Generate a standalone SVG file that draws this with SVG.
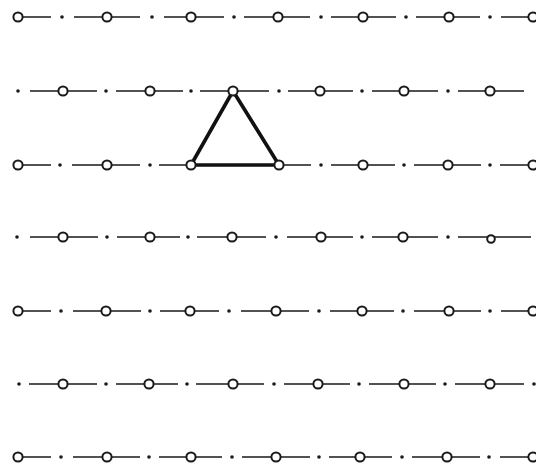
<svg xmlns="http://www.w3.org/2000/svg" width="536" height="471" viewBox="0 0 536 471">
<style>
.seg{stroke:#1a1a1a;stroke-width:1.6;fill:none}
.dot{fill:#1a1a1a}
.node{fill:#fff;stroke:#1a1a1a;stroke-width:2}
.tri{stroke:#111;stroke-width:3.6;fill:none;stroke-linejoin:round}
</style>
<rect width="536" height="471" fill="#fff"/>
<g id="connectors">
<path class="seg" d="M18 17H51 M74 17H140 M164 17H224 M244 17H310 M331 17H396 M416 17H480 M501 17H536"/>
<path class="seg" d="M30 91H97 M116 91H183 M200 91H269 M288 91H353 M372 91H438 M458 91H524"/>
<path class="seg" d="M18 165H51 M72 165H140 M159 165H191 M279 165H311 M331 165H395 M414 165H481 M500 165H536"/>
<path class="seg" d="M30 237H98 M117 237H180 M197 237H266 M287 237H353 M372 237H438 M458 237H531"/>
<path class="seg" d="M18 311H51 M73 311H141 M160 311H219 M241 311H309 M330 311H394 M414 311H481 M501 311H536"/>
<path class="seg" d="M29 384H97 M116 384H178 M196 384H264 M284 384H350 M369 384H436 M455 384H524"/>
<path class="seg" d="M18 457H51 M73 457H140 M159 457H222 M242 457H310 M329 457H392 M412 457H480 M500 457H536"/>
<g class="dot">
<circle cx="62" cy="17" r="1.8"/><circle cx="152" cy="17" r="1.8"/><circle cx="234" cy="17" r="1.8"/><circle cx="321" cy="17" r="1.8"/><circle cx="406" cy="17" r="1.8"/><circle cx="490" cy="17" r="1.8"/>
<circle cx="18" cy="91" r="1.8"/><circle cx="106" cy="91" r="1.8"/><circle cx="191" cy="91" r="1.8"/><circle cx="279" cy="91" r="1.8"/><circle cx="362" cy="91" r="1.8"/><circle cx="448" cy="91" r="1.8"/>
<circle cx="60" cy="165" r="1.8"/><circle cx="150" cy="165" r="1.8"/><circle cx="321" cy="165" r="1.8"/><circle cx="404" cy="165" r="1.8"/><circle cx="490" cy="165" r="1.8"/>
<circle cx="17" cy="237" r="1.8"/><circle cx="107" cy="237" r="1.8"/><circle cx="188" cy="237" r="1.8"/><circle cx="276" cy="237" r="1.8"/><circle cx="362" cy="237" r="1.8"/><circle cx="448" cy="237" r="1.8"/>
<circle cx="61" cy="311" r="1.8"/><circle cx="150" cy="311" r="1.8"/><circle cx="229" cy="311" r="1.8"/><circle cx="319" cy="311" r="1.8"/><circle cx="403" cy="311" r="1.8"/><circle cx="490" cy="311" r="1.8"/>
<circle cx="19" cy="384" r="1.8"/><circle cx="106" cy="384" r="1.8"/><circle cx="187" cy="384" r="1.8"/><circle cx="274" cy="384" r="1.8"/><circle cx="359" cy="384" r="1.8"/><circle cx="445" cy="384" r="1.8"/><circle cx="534" cy="384" r="1.8"/>
<circle cx="61" cy="457" r="1.8"/><circle cx="149" cy="457" r="1.8"/><circle cx="232" cy="457" r="1.8"/><circle cx="319" cy="457" r="1.8"/><circle cx="402" cy="457" r="1.8"/><circle cx="489" cy="457" r="1.8"/>
</g>
<path class="tri" d="M233 91L191 165L279 165Z"/>
</g>
<g id="row1">
<circle class="node" cx="18" cy="17" r="4.6"/><circle class="node" cx="107" cy="17" r="4.6"/><circle class="node" cx="191" cy="17" r="4.6"/><circle class="node" cx="278" cy="17" r="4.6"/><circle class="node" cx="363" cy="17" r="4.6"/><circle class="node" cx="449" cy="17" r="4.6"/><circle class="node" cx="533" cy="17" r="4.6"/>
</g>
<g id="row2">
<circle class="node" cx="63" cy="91" r="4.6"/><circle class="node" cx="150" cy="91" r="4.6"/><circle class="node" cx="233" cy="91" r="4.6"/><circle class="node" cx="320" cy="91" r="4.6"/><circle class="node" cx="404" cy="91" r="4.6"/><circle class="node" cx="490" cy="91" r="4.6"/>
</g>
<g id="row3">
<circle class="node" cx="18" cy="165" r="4.6"/><circle class="node" cx="107" cy="165" r="4.6"/><circle class="node" cx="191" cy="165" r="4.6"/><circle class="node" cx="279" cy="165" r="4.6"/><circle class="node" cx="363" cy="165" r="4.6"/><circle class="node" cx="448" cy="165" r="4.6"/><circle class="node" cx="533" cy="165" r="4.6"/>
</g>
<g id="row4">
<circle class="node" cx="63" cy="237" r="4.6"/><circle class="node" cx="150" cy="237" r="4.6"/><circle class="node" cx="232" cy="237" r="4.6"/><circle class="node" cx="321" cy="237" r="4.6"/><circle class="node" cx="403" cy="237" r="4.6"/><circle class="node" cx="491" cy="239" r="3.8" stroke-width="1.2"/>
</g>
<g id="row5">
<circle class="node" cx="18" cy="311" r="4.6"/><circle class="node" cx="106" cy="311" r="4.6"/><circle class="node" cx="190" cy="311" r="4.6"/><circle class="node" cx="276" cy="311" r="4.6"/><circle class="node" cx="362" cy="311" r="4.6"/><circle class="node" cx="449" cy="311" r="4.6"/><circle class="node" cx="533" cy="311" r="4.6"/>
</g>
<g id="row6">
<circle class="node" cx="63" cy="384" r="4.6"/><circle class="node" cx="149" cy="384" r="4.6"/><circle class="node" cx="233" cy="384" r="4.6"/><circle class="node" cx="318" cy="384" r="4.6"/><circle class="node" cx="404" cy="384" r="4.6"/><circle class="node" cx="490" cy="384" r="4.6"/>
</g>
<g id="row7">
<circle class="node" cx="18" cy="457" r="4.6"/><circle class="node" cx="107" cy="457" r="4.6"/><circle class="node" cx="191" cy="457" r="4.6"/><circle class="node" cx="276" cy="457" r="4.6"/><circle class="node" cx="360" cy="457" r="4.6"/><circle class="node" cx="447" cy="457" r="4.6"/><circle class="node" cx="533" cy="457" r="4.6"/>
</g>
</svg>
